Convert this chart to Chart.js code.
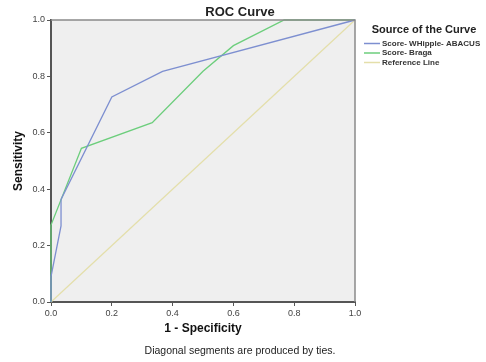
<!DOCTYPE html>
<html lang="en">
<head>
    <meta charset="UTF-8">
    <title>ROC Curve</title>
    <script src="https://cdn.jsdelivr.net/npm/chart.js"></script>
    <style>
        body {
            margin: 0;
            padding: 0;
            background: #fff;
        }
        .chart-box {
            position: relative;
            width: 486px;
            height: 362px;
        }
    </style>
</head>
<body>
    <div class="chart-box">
        <canvas id="rocChart"></canvas>
    </div>

    <script>
        // ROC points (1 - specificity, sensitivity)
        const whippleFpr = [0, 0, 0.033, 0.033, 0.2, 0.367, 1];
        const whippleTpr = [0, 0.09, 0.27, 0.364, 0.727, 0.818, 1];

        const bragaFpr = [0, 0, 0.1, 0.333, 0.5, 0.6, 0.767, 1];
        const bragaTpr = [0, 0.273, 0.545, 0.636, 0.818, 0.909, 1, 1];

        const refFpr = [0, 1];
        const refTpr = [0, 1];

        const seriesNames = ['Score- WHipple- ABACUS', 'Score- Braga', 'Reference Line'];
        const seriesColors = ['#7d8fd0', '#6cce7c', '#e4dfaa'];
        const axisTicks = [0, 0.2, 0.4, 0.6, 0.8, 1.0];

        function toPoints(xs, ys) {
            return xs.map((x, i) => ({ x: x, y: ys[i] }));
        }

        const FONT = "'Liberation Sans', Arial, sans-serif";

        // grey plot background, thin frame, title, legend and footnote
        const plotFrame = {
            id: 'plotFrame',
            beforeDraw(chart) {
                const a = chart.chartArea;
                const c = chart.ctx;
                c.save();
                c.fillStyle = '#efefef';
                c.fillRect(a.left, a.top, a.right - a.left, a.bottom - a.top);
                c.restore();
            },
            afterDraw(chart) {
                const a = chart.chartArea;
                const c = chart.ctx;
                c.save();
                c.strokeStyle = '#8a8a8a';
                c.lineWidth = 1.5;
                c.beginPath();
                c.moveTo(a.left, a.top);
                c.lineTo(a.right, a.top);
                c.lineTo(a.right, a.bottom);
                c.stroke();

                // title
                c.fillStyle = '#222';
                c.textBaseline = 'middle';
                c.textAlign = 'center';
                c.font = 'bold 13px ' + FONT;
                c.fillText('ROC Curve', 240, 12);

                // legend on the right
                c.font = 'bold 11px ' + FONT;
                c.fillText('Source of the Curve', 424, 30);
                c.textAlign = 'left';
                c.font = 'bold 8px ' + FONT;
                const rows = [43.5, 53, 62.5];
                seriesNames.forEach((name, i) => {
                    c.strokeStyle = seriesColors[i];
                    c.lineWidth = 1.5;
                    c.beginPath();
                    c.moveTo(364, rows[i]);
                    c.lineTo(380, rows[i]);
                    c.stroke();
                    c.fillStyle = '#333';
                    c.fillText(name, 382, rows[i]);
                });

                // footnote
                c.textAlign = 'center';
                c.fillStyle = '#222';
                c.font = '10.5px ' + FONT;
                c.fillText('Diagonal segments are produced by ties.', 240, 351);
                c.restore();
            }
        };

        const ctx = document.getElementById('rocChart').getContext('2d');
        const chart = new Chart(ctx, {
            type: 'scatter',
            data: {
                datasets: [
                    {
                        label: seriesNames[0],
                        data: toPoints(whippleFpr, whippleTpr),
                        borderColor: seriesColors[0],
                        showLine: true,
                        borderWidth: 1.3,
                        pointRadius: 0,
                        clip: false
                    },
                    {
                        label: seriesNames[1],
                        data: toPoints(bragaFpr, bragaTpr),
                        borderColor: seriesColors[1],
                        showLine: true,
                        borderWidth: 1.3,
                        pointRadius: 0,
                        clip: false
                    },
                    {
                        label: seriesNames[2],
                        data: toPoints(refFpr, refTpr),
                        borderColor: seriesColors[2],
                        showLine: true,
                        borderWidth: 1.2,
                        pointRadius: 0,
                        clip: false,
                        order: 3
                    }
                ]
            },
            options: {
                responsive: true,
                maintainAspectRatio: false,
                animation: false,
                layout: { padding: { left: 0, right: 131, top: 20, bottom: 22 } },
                plugins: {
                    legend: { display: false },
                    tooltip: { enabled: false },
                    title: { display: false }
                },
                scales: {
                    x: {
                        type: 'linear',
                        min: 0,
                        max: 1,
                        afterBuildTicks: (scale) => {
                            scale.ticks = axisTicks.map(v => ({ value: v }));
                        },
                        afterFit: (scale) => { scale.height = 38; },
                        ticks: {
                            callback: (v) => Number(v).toFixed(1),
                            color: '#444',
                            font: { family: FONT, size: 9 },
                            padding: 2,
                            maxRotation: 0
                        },
                        grid: { drawOnChartArea: false, tickLength: 4, color: '#555' },
                        border: { color: '#555', width: 2 },
                        title: {
                            display: true,
                            text: '1 - Specificity',
                            color: '#111',
                            font: { family: FONT, size: 12, weight: 'bold' },
                            padding: { top: 0, bottom: 4 }
                        }
                    },
                    y: {
                        type: 'linear',
                        min: 0,
                        max: 1,
                        afterBuildTicks: (scale) => {
                            scale.ticks = axisTicks.map(v => ({ value: v }));
                        },
                        afterFit: (scale) => { scale.width = 51; },
                        ticks: {
                            callback: (v) => Number(v).toFixed(1),
                            color: '#444',
                            font: { family: FONT, size: 9 },
                            padding: 2
                        },
                        grid: { drawOnChartArea: false, tickLength: 4, color: '#555' },
                        border: { color: '#555', width: 2 },
                        title: {
                            display: true,
                            text: 'Sensitivity',
                            color: '#111',
                            font: { family: FONT, size: 12, weight: 'bold' },
                            padding: { top: 11, bottom: 0 }
                        }
                    }
                }
            },
            plugins: [plotFrame]
        });
    </script>
</body>
</html>
